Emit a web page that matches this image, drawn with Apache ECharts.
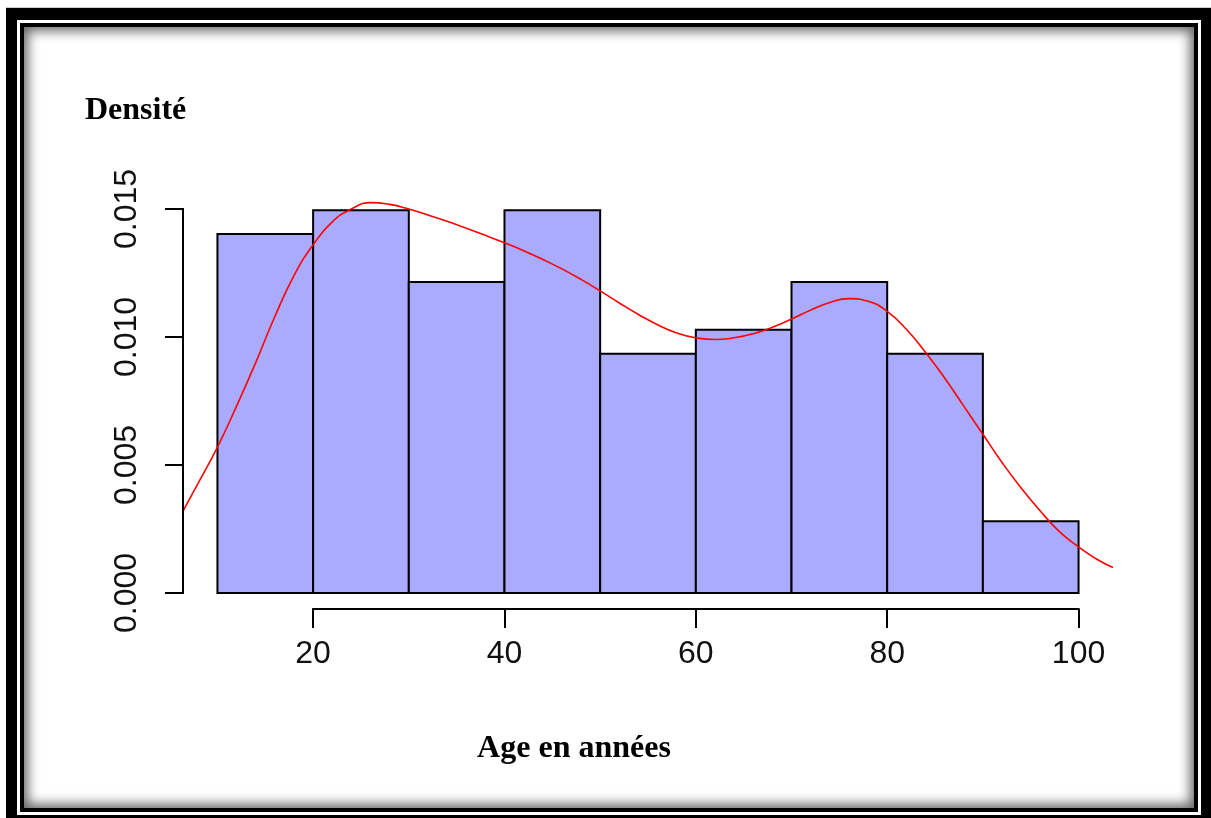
<!DOCTYPE html>
<html>
<head>
<meta charset="utf-8">
<script src="https://cdn.jsdelivr.net/npm/echarts@6/dist/echarts.min.js"></script>
<style>
  html, body { margin: 0; padding: 0; background: #fff; width: 1211px; height: 818px; overflow: hidden; }
  #topline { position: absolute; left: 6px; top: 7px; width: 1205px; height: 1px; background: #ccc; }
  #outer { position: absolute; left: 6px; top: 8px; width: 1205px; height: 810px; background: #000; }
  #gap { position: absolute; left: 17px; top: 20px; width: 1184px; height: 795px; background: #fff; }
  #inner { position: absolute; left: 20px; top: 23px; width: 1178px; height: 789px; box-sizing: border-box;
           border: 4px solid #000; background: #fff; box-shadow: inset 0 0 12px 4px rgba(0,0,0,0.6); }
  #chart { position: absolute; left: 0; top: 0; width: 1211px; height: 818px; }
</style>
</head>
<body>
<div id="topline"></div>
<div id="outer"></div>
<div id="gap"></div>
<div id="inner"></div>
<div id="chart"></div>
<script>
// ---- data ----
const binStarts = [10, 20, 30, 40, 50, 60, 70, 80, 90];
const binEnds   = [20, 30, 40, 50, 60, 70, 80, 90, 100];
const densities = [0.01402, 0.01495, 0.01215, 0.01495, 0.00935, 0.01028, 0.01215, 0.00935, 0.0028];

const curveX = [6.4, 8, 10, 12, 14, 16, 18, 20, 22, 24, 26, 28, 30, 32, 34, 36, 38, 40, 42, 44, 46, 48, 50,
                52, 54, 56, 58, 60, 62, 64, 66, 68, 70, 72, 74, 76, 78, 80, 82, 84, 86, 88, 90, 92, 94, 96, 98,
                100, 102, 103.6];
const curveY = [0.0032, 0.0043, 0.0057, 0.0073, 0.0090, 0.0108, 0.0124, 0.0136, 0.0145, 0.0150, 0.01525, 0.01518,
                0.01500, 0.01477, 0.01452, 0.01425, 0.01397, 0.01368, 0.01337, 0.01303, 0.01266, 0.01225, 0.01180,
                0.01133, 0.01088, 0.01048, 0.01016, 0.00997, 0.00990, 0.00997, 0.01013, 0.01038, 0.01070, 0.01105,
                0.01135, 0.01150, 0.01140, 0.01100, 0.0103, 0.0094, 0.0084, 0.0073, 0.0062, 0.0051, 0.0041,
                0.0032, 0.0024, 0.0018, 0.0013, 0.0010];

const xTicks = [20, 40, 60, 80, 100];
const xTickLabels = ['20', '40', '60', '80', '100'];
const yTicks = [0, 0.005, 0.010, 0.015];
const yTickLabels = ['0.000', '0.005', '0.010', '0.015'];

const yLabel = 'Densité';
const xLabel = 'Age en années';

// ---- chart ----
const X_MIN = 6.4, X_MAX = 103.6, Y_MIN = -0.000625, Y_MAX = 0.01625;
const chart = echarts.init(document.getElementById('chart'), null, { renderer: 'canvas' });

const histData = binStarts.map((s, i) => [s, binEnds[i], densities[i]]);
const curveData = curveX.map((x, i) => [x, curveY[i]]);

const sans = '"Liberation Sans", Arial, sans-serif';
const serif = '"Liberation Serif", "Times New Roman", serif';

chart.setOption({
  animation: false,
  backgroundColor: 'transparent',
  grid: { left: 183, top: 177, width: 930, height: 432, containLabel: false },
  xAxis: {
    type: 'value', min: X_MIN, max: X_MAX,
    axisLine: { show: false, onZero: false },
    splitLine: { show: false },
    axisTick: { show: true, customValues: xTicks, length: 19, lineStyle: { color: '#000', width: 2 } },
    axisLabel: {
      customValues: xTicks, margin: 29, color: '#111', fontSize: 32, fontFamily: sans,
      formatter: v => xTickLabels[xTicks.indexOf(v)] ?? String(v)
    }
  },
  yAxis: {
    type: 'value', min: Y_MIN, max: Y_MAX,
    axisLine: { show: false, onZero: false },
    splitLine: { show: false },
    axisTick: { show: true, customValues: yTicks, length: 18, lineStyle: { color: '#000', width: 2 } },
    axisLabel: {
      customValues: yTicks, margin: 40, rotate: 90, color: '#111', fontSize: 32, fontFamily: sans,
      formatter: v => { const i = yTicks.findIndex(t => Math.abs(t - v) < 1e-9); return i >= 0 ? yTickLabels[i] : String(v); }
    }
  },
  graphic: [
    { type: 'text', left: 85, top: 95, style: { text: yLabel, font: 'bold 32px ' + serif, fill: '#000' } },
    { type: 'text', x: 574, y: 749, style: { text: xLabel, font: 'bold 32px ' + serif, fill: '#000', align: 'center', verticalAlign: 'middle' } }
  ],
  series: [
    {
      type: 'custom',
      name: 'hist',
      data: histData,
      encode: { x: [0, 1], y: 2 },
      renderItem: (params, api) => {
        const p0 = api.coord([api.value(0), api.value(2)]);
        const p1 = api.coord([api.value(1), 0]);
        return {
          type: 'rect',
          shape: { x: p0[0], y: p0[1], width: p1[0] - p0[0], height: p1[1] - p0[1] },
          style: { fill: '#AAAAFF', stroke: '#000', lineWidth: 2 }
        };
      },
      z: 2
    },
    {
      type: 'line',
      name: 'density',
      data: curveData,
      smooth: 0.5,
      showSymbol: false,
      lineStyle: { color: '#FF0000', width: 1.6 },
      z: 3
    },
    {
      type: 'custom',
      name: 'axes',
      data: [[0]],
      clip: false,
      silent: true,
      renderItem: (params, api) => {
        const a0 = api.coord([xTicks[0], Y_MIN]);
        const a1 = api.coord([xTicks[xTicks.length - 1], Y_MIN]);
        const b0 = api.coord([X_MIN, yTicks[0]]);
        const b1 = api.coord([X_MIN, yTicks[yTicks.length - 1]]);
        return {
          type: 'group',
          children: [
            { type: 'line', shape: { x1: a0[0] - 1, y1: a0[1], x2: a1[0] + 1, y2: a1[1] }, style: { stroke: '#000', lineWidth: 2 } },
            { type: 'line', shape: { x1: b0[0], y1: b0[1] + 1, x2: b1[0], y2: b1[1] - 1 }, style: { stroke: '#000', lineWidth: 2 } }
          ]
        };
      },
      z: 4
    }
  ]
});
</script>
</body>
</html>
